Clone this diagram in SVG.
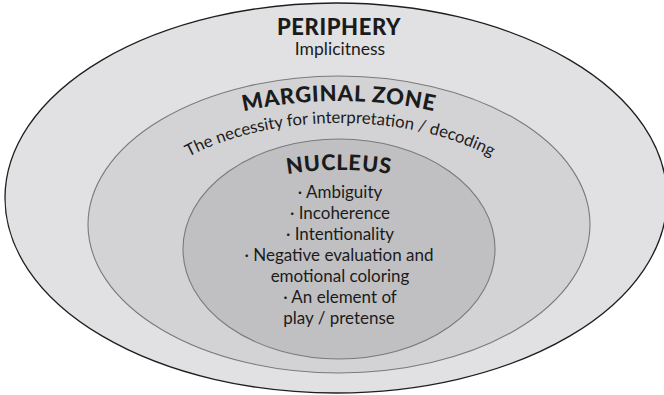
<svg xmlns="http://www.w3.org/2000/svg" width="664" height="395" viewBox="0 0 664 395">
  <style>
    .t { font-family: Lato, "Noto Sans", "Liberation Sans", sans-serif; fill: #1b1b1b; }
    .h { font-weight: 900; }
    .r { font-weight: 400; }
    .outer { fill: #e1e1e3; stroke: #1e1e1e; stroke-width: 1.3; }
    .mid { fill: #d3d3d5; stroke: #7a7a7c; stroke-width: 1.1; }
    .nuc { fill: #c0c0c2; stroke: #7a7a7c; stroke-width: 1.1; }
  </style>
  <defs>
    <path id="arcMarginal" d="M 77,251 A 262,150 0 0 1 601,251"/>
    <path id="arcNecessity" d="M 117,250 A 223,127 0 0 1 563,250"/>
    <path id="arcNucleus" d="M 176,251 A 163,81 0 0 1 502,251"/>
  </defs>
  <rect x="0" y="0" width="664" height="395" fill="#ffffff"/>
  <g id="periphery">
    <ellipse class="outer" cx="336" cy="198" rx="331" ry="195"/>
    <text class="t h" x="339" y="35" font-size="22" text-anchor="middle" letter-spacing="0.6">PERIPHERY</text>
    <text class="t r" x="340" y="55" font-size="17.5" text-anchor="middle">Implicitness</text>
  </g>
  <g id="marginal-zone">
    <ellipse class="mid" cx="339" cy="224.5" rx="251" ry="148.5"/>
    <text class="t h" font-size="22" letter-spacing="0.8" text-anchor="middle"><textPath href="#arcMarginal" startOffset="50%">MARGINAL ZONE</textPath></text>
    <text class="t r" font-size="16.7" text-anchor="middle"><textPath href="#arcNecessity" startOffset="50%">The necessity for interpretation / decoding</textPath></text>
  </g>
  <g id="nucleus">
    <ellipse class="nuc" cx="339" cy="249" rx="156" ry="110"/>
    <text class="t h" font-size="21.5" letter-spacing="0.8" text-anchor="middle"><textPath href="#arcNucleus" startOffset="50%">NUCLEUS</textPath></text>
    <g class="t r" font-size="17" text-anchor="middle">
      <text x="340" y="198">· Ambiguity</text>
      <text x="340" y="219">· Incoherence</text>
      <text x="340" y="240">· Intentionality</text>
      <text x="339" y="261">· Negative evaluation and</text>
      <text x="340" y="282">emotional coloring</text>
      <text x="340" y="303">· An element of</text>
      <text x="339" y="324">play / pretense</text>
    </g>
  </g>
  <g id="connectors"/>
</svg>
